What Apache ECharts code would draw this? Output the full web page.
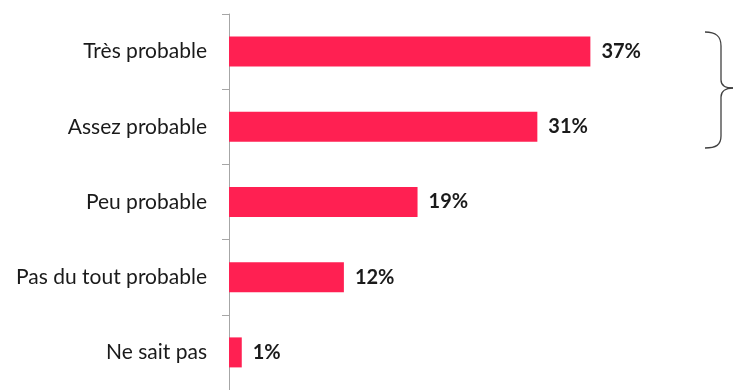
<!DOCTYPE html>
<html><head><meta charset="utf-8">
<script src="https://cdn.jsdelivr.net/npm/echarts@6/dist/echarts.min.js"></script>
<style>html,body{margin:0;padding:0;background:#fff}#c{width:733px;height:390px}</style>
</head><body><div id="c"></div>
<script>
const categories = ["Très probable", "Assez probable", "Peu probable", "Pas du tout probable", "Ne sait pas"];
const values = [36.8, 31.4, 19.2, 11.7, 1.3];
const labels = ["37%", "31%", "19%", "12%", "1%"];

const braceStyle = { stroke: '#404040', lineWidth: 1.3, fill: null };
function bz(x1, y1, a, b, c, d, x2, y2) {
  return { type: 'bezierCurve', silent: true,
    shape: { x1: x1, y1: y1, cpx1: a, cpy1: b, cpx2: c, cpy2: d, x2: x2, y2: y2 }, style: braceStyle };
}
function ln(x1, y1, x2, y2) {
  return { type: 'line', silent: true, shape: { x1: x1, y1: y1, x2: x2, y2: y2 }, style: braceStyle };
}

const chart = echarts.init(document.getElementById('c'));
chart.setOption({
  animation: false,
  grid: { left: 229, right: 13, top: 14, bottom: -4, containLabel: false },
  xAxis: { type: 'value', min: 0, max: 50, show: false },
  yAxis: {
    type: 'category', data: categories, inverse: true,
    axisLine: { show: true, lineStyle: { color: '#a6a6a6', width: 1 } },
    axisTick: { show: true, length: 7, lineStyle: { color: '#a6a6a6' } },
    axisLabel: { margin: 22, color: '#1a1a1a', fontSize: 21, fontFamily: 'Lato, sans-serif',
      padding: [3, 0, 0, 0] }
  },
  series: [{
    type: 'bar', data: values, barWidth: 30,
    itemStyle: { color: '#FF2052' },
    label: { show: true, position: 'right', distance: 11, padding: [3, 0, 0, 0],
      formatter: function (p) { return labels[p.dataIndex]; },
      color: '#1a1a1a', fontSize: 20, fontWeight: 'bold', fontFamily: 'Lato, sans-serif' }
  }],
  graphic: [
    bz(705, 32, 716, 32, 721, 36, 721, 46),
    ln(721, 46, 721, 80),
    bz(721, 80, 721, 86, 726, 88, 733, 88),
    bz(733, 88, 726, 88, 721, 91, 721, 97),
    ln(721, 97, 721, 136),
    bz(721, 136, 721, 145, 716, 148, 705, 148)
  ]
});
</script></body></html>
